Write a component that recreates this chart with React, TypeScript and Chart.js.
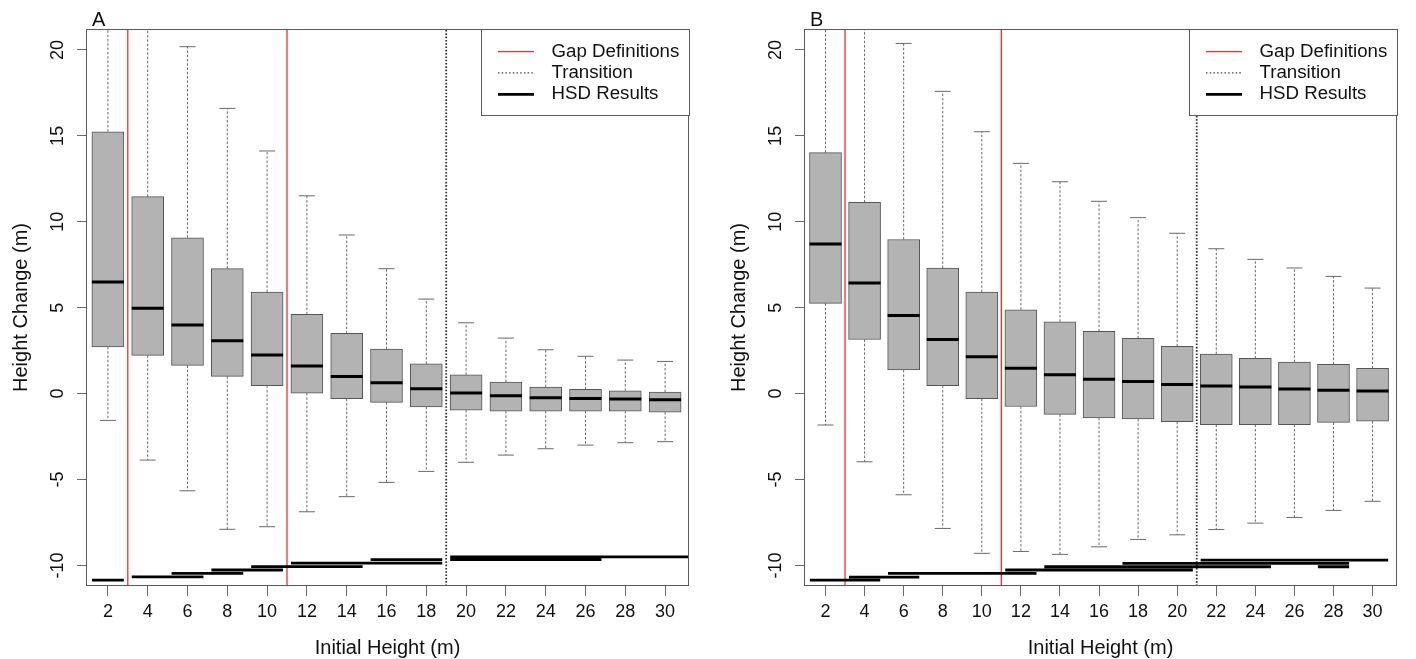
import React, { useEffect, useRef } from 'react';
import { Chart, registerables } from 'chart.js';

Chart.register(...registerables);

const FONT = "'Liberation Sans', Arial, Helvetica, sans-serif";

// Categories (initial height classes, m)
const heights = [2, 4, 6, 8, 10, 12, 14, 16, 18, 20, 22, 24, 26, 28, 30];
const xTickValues = [2, 4, 6, 8, 10, 12, 14, 16, 18, 20, 22, 24, 26, 28, 30];
const yTickValues = [-10, -5, 0, 5, 10, 15, 20];
const yAxisMin = -11.2;
const yAxisMax = 21.22;
const xAxisMin = 0.9;

const legendLabels = ['Gap Definitions', 'Transition', 'HSD Results'];
const gapDefinitions = [3, 11];

// Panel A box statistics
const aLow = [-1.56, -3.87, -5.66, -7.9, -7.75, -6.88, -6.0, -5.17, -4.53, -4.0, -3.58, -3.21, -3.0, -2.86, -2.8];
const aQ1 = [2.72, 2.22, 1.64, 1.0, 0.46, 0.03, -0.3, -0.51, -0.77, -0.96, -1.02, -1.02, -1.02, -1.02, -1.08];
const aMed = [6.49, 4.96, 3.99, 3.07, 2.24, 1.6, 1.0, 0.63, 0.28, 0.03, -0.13, -0.24, -0.28, -0.32, -0.36];
const aQ3 = [15.24, 11.46, 9.07, 7.27, 5.91, 4.61, 3.5, 2.59, 1.73, 1.09, 0.67, 0.38, 0.24, 0.16, 0.09];
const aHigh = [24.5, 27.0, 20.19, 16.6, 14.12, 11.51, 9.23, 7.27, 5.5, 4.12, 3.23, 2.55, 2.17, 1.95, 1.87];
const aTransition = 19;
const hsdAFrom = [1.2, 3.2, 5.2, 7.2, 9.2, 11.2, 15.2, 19.2, 19.2];
const hsdATo = [2.8, 6.8, 8.8, 10.8, 14.8, 18.8, 18.8, 26.8, 31.5];
const hsdALevel = [-10.86, -10.67, -10.47, -10.27, -10.07, -9.87, -9.67, -9.67, -9.5];

// Panel B box statistics
const bLow = [-1.83, -3.97, -5.89, -7.85, -9.3, -9.19, -9.36, -8.92, -8.49, -8.22, -7.91, -7.54, -7.21, -6.8, -6.27];
const bQ1 = [5.25, 3.15, 1.37, 0.46, -0.3, -0.75, -1.21, -1.41, -1.48, -1.64, -1.81, -1.81, -1.81, -1.68, -1.6];
const bMed = [8.7, 6.43, 4.55, 3.15, 2.14, 1.48, 1.09, 0.84, 0.71, 0.53, 0.44, 0.38, 0.26, 0.2, 0.15];
const bQ3 = [14.02, 11.13, 8.97, 7.3, 5.91, 4.88, 4.18, 3.62, 3.21, 2.75, 2.3, 2.05, 1.83, 1.7, 1.47];
const bHigh = [25.0, 27.5, 20.38, 17.59, 15.24, 13.4, 12.33, 11.19, 10.24, 9.33, 8.43, 7.81, 7.31, 6.82, 6.14];
const bTransition = 21;
const hsdBFrom = [1.2, 3.2, 5.2, 11.2, 13.2, 27.2, 17.2, 21.2];
const hsdBTo = [4.8, 6.8, 12.8, 20.8, 24.8, 28.8, 28.8, 30.8];
const hsdBLevel = [-10.86, -10.68, -10.47, -10.27, -10.08, -10.08, -9.88, -9.69];

type Panel = {
  letter: string;
  low: number[]; q1: number[]; med: number[]; q3: number[]; high: number[];
  transition: number;
  hsdFrom: number[]; hsdTo: number[]; hsdLevel: number[];
  yAxisWidth: number; rightPad: number; yTitlePad: number; xMax: number;
};

const panels: Panel[] = [
  { letter: 'A', low: aLow, q1: aQ1, med: aMed, q3: aQ3, high: aHigh, transition: aTransition,
    hsdFrom: hsdAFrom, hsdTo: hsdATo, hsdLevel: hsdALevel,
    yAxisWidth: 86, rightPad: 16, yTitlePad: 11, xMax: 31.2 },
  { letter: 'B', low: bLow, q1: bQ1, med: bMed, q3: bQ3, high: bHigh, transition: bTransition,
    hsdFrom: hsdBFrom, hsdTo: hsdBTo, hsdLevel: hsdBLevel,
    yAxisWidth: 96, rightPad: 5, yTitlePad: 21, xMax: 31.25 },
];

function makePlugin(p: Panel) {
  return {
    id: 'rstyle' + p.letter,
    afterDatasetsDraw(chart: any) {
      const { ctx, chartArea: ca } = chart;
      ctx.save();
      ctx.strokeStyle = '#5a5a5a';
      ctx.lineWidth = 1;
      ctx.strokeRect(ca.left + 0.5, ca.top + 0.5, ca.right - ca.left - 1, ca.bottom - ca.top - 1);
      ctx.restore();
    },
    afterDraw(chart: any) {
      const { ctx, chartArea: ca, scales } = chart;
      const ys = scales.y;
      ctx.save();
      // rotated y tick labels
      ctx.fillStyle = '#111';
      ctx.font = `18px ${FONT}`;
      ctx.textAlign = 'center';
      ctx.textBaseline = 'middle';
      yTickValues.forEach((v) => {
        const py = ys.getPixelForValue(v);
        ctx.save();
        ctx.translate(ca.left - 27.5, py);
        ctx.rotate(-Math.PI / 2);
        ctx.fillText(String(v), 0, 0);
        ctx.restore();
      });
      // panel letter
      ctx.font = `20px ${FONT}`;
      ctx.textAlign = 'left';
      ctx.textBaseline = 'alphabetic';
      ctx.fillText(p.letter, ca.left + 6, 26);
      // legend
      const lw = 208;
      const lh = 86;
      const lx = ca.right - lw;
      const ly = ca.top;
      ctx.fillStyle = '#fff';
      ctx.fillRect(lx, ly, lw, lh);
      ctx.strokeStyle = '#5a5a5a';
      ctx.lineWidth = 1;
      ctx.strokeRect(lx + 0.5, ly + 0.5, lw, lh);
      const rows = [22.7, 43.9, 65.3];
      const styles = [
        { color: '#ff2a2a', width: 1.3, dash: [] as number[] },
        { color: '#444', width: 1.3, dash: [1.5, 2.2] },
        { color: '#000', width: 2.8, dash: [] as number[] },
      ];
      rows.forEach((r, i) => {
        const yy = ly + r;
        ctx.save();
        ctx.strokeStyle = styles[i].color;
        ctx.lineWidth = styles[i].width;
        ctx.setLineDash(styles[i].dash);
        ctx.beginPath();
        ctx.moveTo(lx + 17, yy);
        ctx.lineTo(lx + 53, yy);
        ctx.stroke();
        ctx.restore();
        ctx.fillStyle = '#111';
        ctx.font = `18.7px ${FONT}`;
        ctx.textAlign = 'left';
        ctx.textBaseline = 'middle';
        ctx.fillText(legendLabels[i], lx + 70.5, yy);
      });
      ctx.restore();
    },
  };
}

function buildConfig(p: Panel): any {
  const boxes = heights.map((h, i) => ({ x: h, y: [p.q1[i], p.q3[i]] }));
  const medians = heights.map((h, i) => ({ x: h, y: p.med[i] }));
  const whiskers = heights.flatMap((h, i) => [
    { x: h, y: p.q3[i] }, { x: h, y: p.high[i] }, { x: h, y: null },
    { x: h, y: p.q1[i] }, { x: h, y: p.low[i] }, { x: h, y: null },
  ]);
  const staples = heights.flatMap((h, i) => [{ x: h, y: p.high[i] }, { x: h, y: p.low[i] }]);
  const hsd = p.hsdFrom.flatMap((f, i) => [
    { x: f, y: p.hsdLevel[i] }, { x: p.hsdTo[i], y: p.hsdLevel[i] }, { x: p.hsdTo[i], y: null },
  ]);
  const gaps = gapDefinitions.flatMap((g) => [
    { x: g, y: yAxisMin }, { x: g, y: yAxisMax }, { x: g, y: null },
  ]);
  const transition = [{ x: p.transition, y: yAxisMin }, { x: p.transition, y: yAxisMax }];

  return {
    type: 'bar',
    data: {
      datasets: [
        {
          type: 'line', label: 'median', data: medians, showLine: false, order: 0,
          pointStyle: 'line', pointRadius: 16, pointBorderWidth: 3,
          pointBorderColor: '#000', pointBackgroundColor: '#000',
        },
        {
          type: 'bar', label: 'box', data: boxes, order: 1,
          backgroundColor: '#b3b3b3', borderColor: '#555', borderWidth: 1,
          borderSkipped: false, barThickness: 32, grouped: false,
        },
        {
          type: 'line', label: 'whisker', data: whiskers, order: 2,
          borderColor: '#6a6a6a', borderWidth: 1, borderDash: [2.5, 1.8],
          pointRadius: 0, spanGaps: false, tension: 0, clip: 0,
        },
        {
          type: 'line', label: 'staple', data: staples, showLine: false, order: 2,
          pointStyle: 'line', pointRadius: 8, pointBorderWidth: 1,
          pointBorderColor: '#6a6a6a', clip: 0,
        },
        {
          type: 'line', label: 'HSD Results', data: hsd, order: 3,
          borderColor: '#000', borderWidth: 2.8, pointRadius: 0,
          spanGaps: false, tension: 0, borderCapStyle: 'butt', clip: 0,
        },
        {
          type: 'line', label: 'Gap Definitions', data: gaps, order: 4,
          borderColor: '#ff2a2a', borderWidth: 1.3, pointRadius: 0,
          spanGaps: false, tension: 0, clip: 0,
        },
        {
          type: 'line', label: 'Transition', data: transition, order: 4,
          borderColor: '#333', borderWidth: 1.8, borderDash: [1.6, 1.7], pointRadius: 0,
          tension: 0, clip: 0,
        },
      ],
    },
    options: {
      animation: false,
      responsive: false,
      devicePixelRatio: 1,
      events: [],
      layout: { padding: { top: 29, right: p.rightPad, bottom: 0, left: 0 } },
      plugins: {
        legend: { display: false },
        tooltip: { enabled: false },
        title: { display: false },
      },
      scales: {
        x: {
          type: 'linear',
          min: xAxisMin,
          max: p.xMax,
          offset: false,
          grid: {
            display: true, drawOnChartArea: false, drawTicks: true,
            tickLength: 10, color: '#6a6a6a', offset: false,
          },
          border: { display: false },
          ticks: {
            autoSkip: false, maxRotation: 0, minRotation: 0, padding: 5,
            font: { family: FONT, size: 18 }, color: '#111',
            callback: (v: number) => String(v),
          },
          title: {
            display: true, text: 'Initial Height (m)', color: '#111',
            font: { family: FONT, size: 20, lineHeight: 1 },
            padding: { top: 0, bottom: 1 },
          },
          afterBuildTicks: (s: any) => { s.ticks = xTickValues.map((v) => ({ value: v })); },
          afterFit: (s: any) => { s.height = 73; },
        },
        y: {
          type: 'linear',
          min: yAxisMin,
          max: yAxisMax,
          grid: {
            display: true, drawOnChartArea: false, drawTicks: true,
            tickLength: 9, color: '#6a6a6a',
          },
          border: { display: false },
          ticks: { display: false },
          title: {
            display: true, text: 'Height Change (m)', color: '#111',
            font: { family: FONT, size: 20, lineHeight: 1 },
            padding: { top: p.yTitlePad, bottom: 0 },
          },
          afterBuildTicks: (s: any) => { s.ticks = yTickValues.map((v) => ({ value: v })); },
          afterFit: (s: any) => { s.width = p.yAxisWidth; },
        },
      },
    },
    plugins: [makePlugin(p)],
  };
}

function PanelChart({ panel, left }: { panel: Panel; left: number }) {
  const ref = useRef<HTMLCanvasElement | null>(null);
  useEffect(() => {
    if (!ref.current) return;
    const chart = new Chart(ref.current, buildConfig(panel));
    return () => chart.destroy();
  }, [panel]);
  return (
    <canvas
      ref={ref}
      width={708}
      height={659}
      style={{ position: 'absolute', left, top: 0, width: 708, height: 659 }}
    />
  );
}

export default function App() {
  return (
    <div
      style={{
        position: 'fixed', left: 0, top: 0, width: 1416, height: 659,
        background: '#fff', overflow: 'hidden',
      }}
    >
      <PanelChart panel={panels[0]} left={0} />
      <PanelChart panel={panels[1]} left={708} />
    </div>
  );
}
